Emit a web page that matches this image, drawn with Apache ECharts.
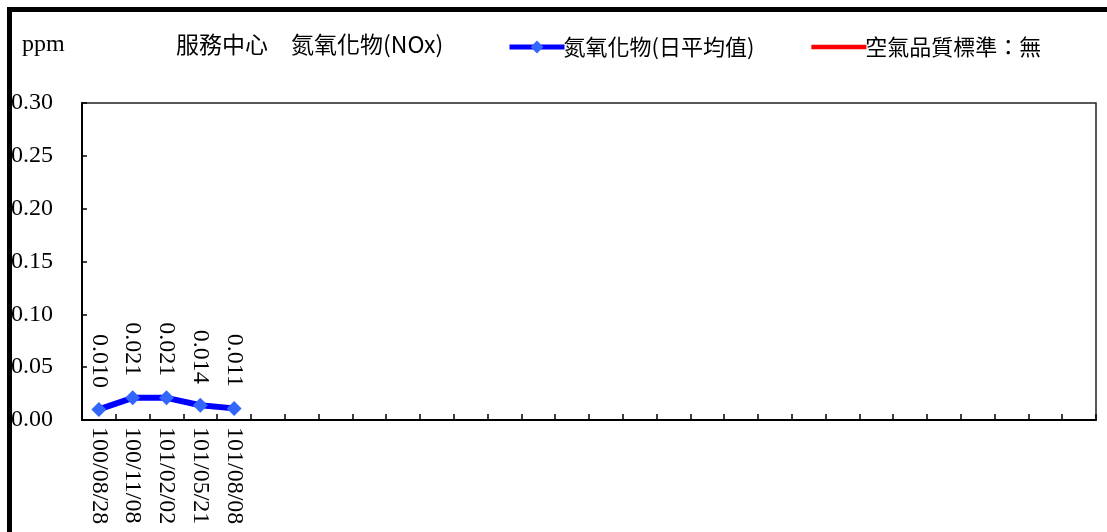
<!DOCTYPE html>
<html>
<head>
<meta charset="utf-8">
<script src="https://cdn.jsdelivr.net/npm/echarts@6/dist/echarts.min.js"></script>
<style>
html,body{margin:0;padding:0;background:#fff;}
#chart{width:1107px;height:532px;}
</style>
</head>
<body>
<div id="chart"></div>
<script>
const titleText = '服務中心　氮氧化物(NOx)';
const unitText = 'ppm';
const seriesNames = ['氮氧化物(日平均值)', '空氣品質標準：無'];
const labeledDates = ['100/08/28', '100/11/08', '101/02/02', '101/05/21', '101/08/08'];
const emptySlots = 25;
const noxValues = [0.010, 0.021, 0.021, 0.014, 0.011];
const standardValues = [];
const yMin = 0, yMax = 0.30, yStep = 0.05;

const categories = labeledDates.concat(new Array(emptySlots).fill(''));
const serif = "'Liberation Serif', 'Times New Roman', serif";
const cjk = "'Noto Sans CJK TC', 'Noto Sans', sans-serif";

const chart = echarts.init(document.getElementById('chart'), null, {renderer: 'canvas'});
chart.setOption({
  animation: false,
  backgroundColor: '#ffffff',
  title: {
    text: titleText,
    left: 176, top: 33,
    padding: 0,
    textStyle: {fontFamily: cjk, fontSize: 23, fontWeight: 'normal', color: '#000'}
  },
  legend: {
    left: 507, top: 36,
    padding: 0,
    itemGap: 57,
    itemWidth: 55, itemHeight: 16,
    symbolKeepAspect: true,
    textStyle: {fontFamily: cjk, fontSize: 22, color: '#000', padding: [2, 0, 0, -6]},
    data: [
      {name: seriesNames[0], lineStyle: {width: 5, color: '#0000FF'}, itemStyle: {color: '#3366FF'}},
      {name: seriesNames[1], icon: 'path://M0,0H51V4H0Z', itemStyle: {color: '#FF0000'}}
    ]
  },
  graphic: [
    {type: 'rect', shape: {x: 9.5, y: 9.5, width: 1300, height: 700},
     style: {fill: 'none', stroke: '#000', lineWidth: 5}, z: 100, silent: true},
    {type: 'text', left: 22, top: 33,
     style: {text: unitText, font: "24px 'Liberation Serif'", fill: '#000'}}
  ],
  grid: {
    left: 82, right: 11, top: 103, bottom: 112,
    show: true, borderColor: '#222', borderWidth: 1.5, backgroundColor: 'transparent'
  },
  xAxis: {
    type: 'category',
    data: categories,
    boundaryGap: true,
    axisLine: {lineStyle: {color: '#000', width: 2}},
    axisTick: {show: true, inside: true, length: 6, interval: 0, lineStyle: {color: '#000', width: 1.5}},
    axisLabel: {interval: 0, rotate: -90, margin: 7, fontFamily: serif, fontSize: 24, color: '#000'},
    splitLine: {show: false}
  },
  yAxis: {
    type: 'value',
    min: yMin, max: yMax, interval: yStep,
    axisLine: {show: true, lineStyle: {color: '#000', width: 2}},
    axisTick: {show: true, inside: true, length: 5, lineStyle: {color: '#000', width: 1.5}},
    axisLabel: {margin: 29, align: 'right', fontFamily: serif, fontSize: 24, color: '#000',
      formatter: v => v.toFixed(2)},
    splitLine: {show: false}
  },
  series: [
    {
      name: seriesNames[0],
      type: 'line',
      data: noxValues,
      symbol: 'diamond',
      symbolSize: 15,
      itemStyle: {color: '#3366FF'},
      lineStyle: {color: '#0000FF', width: 6},
      label: {
        show: true, position: 'top', rotate: -90, align: 'right', verticalAlign: 'middle',
        distance: 14, fontFamily: serif, fontSize: 24, color: '#000',
        formatter: p => p.value.toFixed(3)
      },
      z: 3
    },
    {
      name: seriesNames[1],
      type: 'line',
      data: standardValues,
      symbol: 'none',
      itemStyle: {color: '#FF0000'},
      lineStyle: {color: '#FF0000', width: 4}
    }
  ]
});
</script>
</body>
</html>
